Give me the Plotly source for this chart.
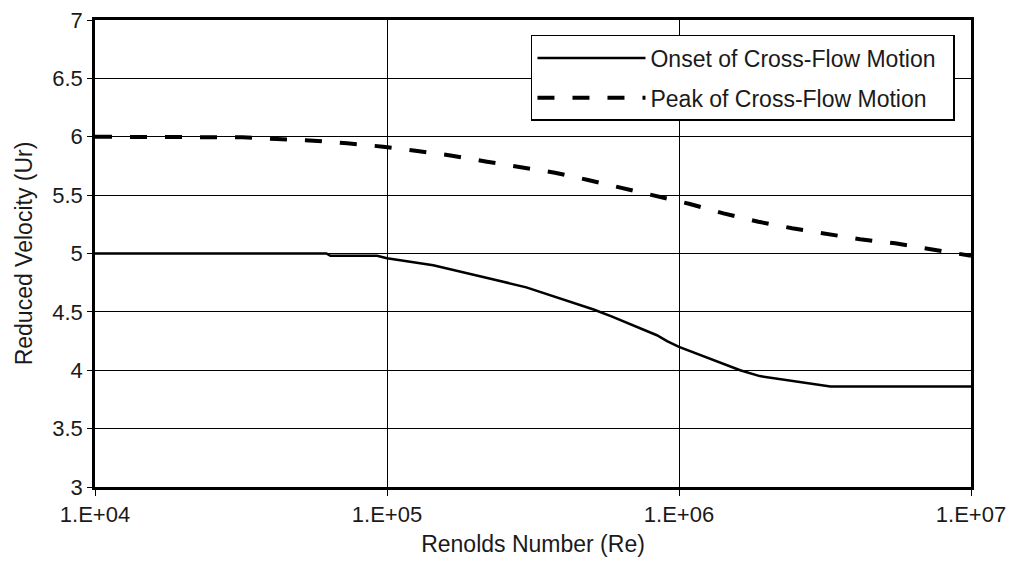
import plotly.graph_objects as go

# Onset of Cross-Flow Motion
onset_re = [1e4, 6.2e4, 6.4e4, 9.25e4, 1.0e5, 1.25e5, 1.44e5, 2.3e5, 3.0e5, 5.1e5,
            5.9e5, 8.4e5, 9.1e5, 1.0e6, 1.18e6, 1.31e6, 1.62e6, 1.89e6, 2.6e6, 3.3e6, 1e7]
onset_ur = [5.0, 5.0, 4.98, 4.98, 4.96, 4.92, 4.90, 4.78, 4.71, 4.52,
            4.46, 4.30, 4.25, 4.20, 4.13, 4.09, 4.00, 3.95, 3.90, 3.86, 3.86]

# Peak of Cross-Flow Motion
peak_re = [1e4, 3.2e4, 4.2e4, 5.6e4, 7.3e4, 9.7e4, 1.27e5, 1.67e5, 2.2e5, 2.85e5, 3.76e5,
           4.88e5, 6.43e5, 8.41e5, 1.09e6, 1.42e6, 1.87e6, 2.44e6, 3.21e6, 4.17e6,
           5.5e6, 7.24e6, 1e7]
peak_ur = [6.0, 5.995, 5.98, 5.966, 5.944, 5.915, 5.878, 5.838, 5.786, 5.743, 5.692,
           5.63, 5.558, 5.486, 5.424, 5.344, 5.272, 5.216, 5.164, 5.122,
           5.087, 5.039, 4.98]

series_names = ["Onset of Cross-Flow Motion", "Peak of Cross-Flow Motion"]

x_tickvals = [1e4, 1e5, 1e6, 1e7]
x_ticktext = ["1.E+04", "1.E+05", "1.E+06", "1.E+07"]

FONT = "Liberation Sans, Arial, sans-serif"
TXT = "#1a1a1a"
PAD = "\u00a0\u00a0"

fig = go.Figure()
fig.add_trace(go.Scatter(x=onset_re, y=onset_ur, mode="lines",
                         name=series_names[0] + PAD, legendgroup="a",
                         line=dict(color="black", width=2.5)))
fig.add_trace(go.Scatter(x=peak_re, y=peak_ur, mode="lines",
                         name=series_names[1] + PAD, legendgroup="b",
                         line=dict(color="black", width=4, dash="17px,18px")))

fig.update_layout(
    width=1014, height=562,
    margin=dict(l=95, r=43, t=20, b=75),
    paper_bgcolor="white", plot_bgcolor="white",
    font=dict(family=FONT, size=22, color=TXT),
    showlegend=True,
    legend=dict(x=0.9817, y=0.968, xanchor="right", yanchor="top",
                bgcolor="white", bordercolor="black", borderwidth=1.5,
                font=dict(family=FONT, size=23, color=TXT),
                traceorder="grouped", tracegroupgap=7,
                itemwidth=108),
    xaxis=dict(type="log", range=[4, 7], tickvals=x_tickvals, ticktext=x_ticktext,
               automargin=False,
               showgrid=True, gridcolor="black", gridwidth=1,
               showline=True, linecolor="black", linewidth=2.5, mirror=True,
               ticks="outside", ticklen=6, tickcolor="black",
               tickfont=dict(family=FONT, size=22, color=TXT),
               title=dict(text="Renolds Number (Re)", standoff=10,
                          font=dict(family=FONT, size=23, color=TXT)),
               zeroline=False),
    yaxis=dict(range=[3, 7], dtick=0.5, tick0=3,
               automargin="left",
               showgrid=True, gridcolor="black", gridwidth=1,
               showline=True, linecolor="black", linewidth=2.5, mirror=True,
               ticks="outside", ticklen=5, tickcolor="black",
               tickfont=dict(family=FONT, size=22, color=TXT),
               title=dict(text="Reduced Velocity (Ur)", standoff=14,
                          font=dict(family=FONT, size=23, color=TXT)),
               zeroline=False),
)

fig.write_html("out.html", config={"displayModeBar": False},
               post_script="document.body.style.margin='0';document.body.style.padding='0';")
